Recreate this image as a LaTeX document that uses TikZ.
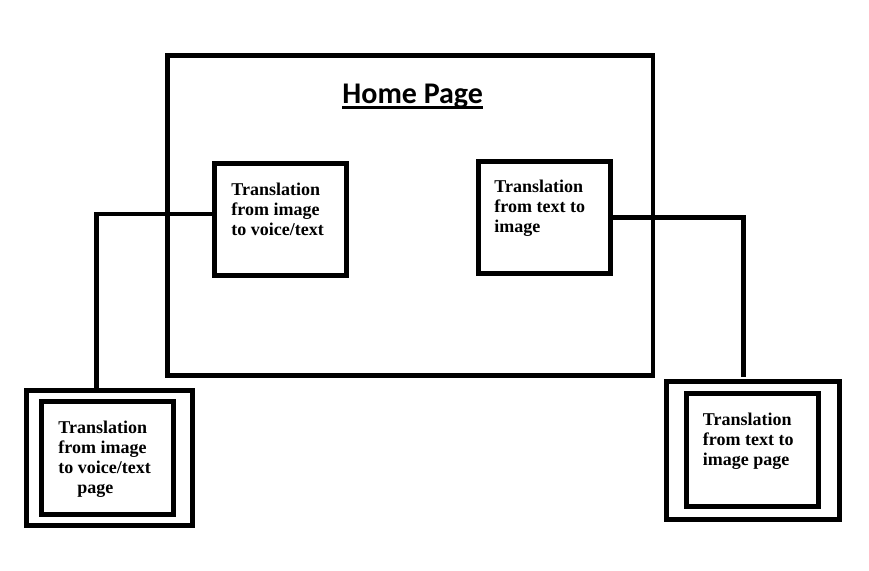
\documentclass[tikz,border=0pt]{standalone}
\usepackage{fontspec}
\setmainfont{Liberation Serif}
\newfontfamily\titlefont{Carlito}
\usetikzlibrary{positioning}

\begin{document}
\begin{tikzpicture}[x=1pt, y=-1pt,
    screen/.style={draw, line width=4.5pt, minimum width=132pt, minimum height=112pt, inner sep=0pt},
    wire/.style={draw, line width=4.5pt},
    boxtext/.style={font=\fontsize{18}{20}\selectfont\bfseries, align=left, inner sep=0pt, anchor=north west}
  ]
    \useasboundingbox (0,0) rectangle (869,570);

    % home page and its two entries
    \node[screen, minimum width=485.5pt, minimum height=320pt] (home) at (410.25, 215.5) {};
    \node[font=\titlefont\fontsize{30}{36}\selectfont\bfseries, inner sep=0pt, anchor=base] (title) at (412.7, 103.3) {Home Page};
    \draw[line width=3pt] ([yshift=-3.7pt]title.base west) -- ([yshift=-3.7pt]title.base east);

    \node[screen] (imgbox) at (280.5, 219.5) {};
    \node[screen] (txtbox) at (544.5, 217.5) {};
    \node[boxtext, below right=21.5pt and 19pt of imgbox.north west] (imgtext) {Translation\\from image\\to voice/text};
    \node[boxtext, below right=20.5pt and 18pt of txtbox.north west] (txttext) {Translation\\from text to\\image};

    % target pages
    \node[screen, minimum width=166pt, minimum height=135pt] (imgpage) at (109.5, 458) {};
    \node[screen, minimum height=113pt] (imgpagein) at (107.5, 458) {};
    \node[boxtext, below right=21.5pt and 19pt of imgpagein.north west] (imgpagetext) {Translation\\from image\\to voice/text\\\hspace*{19pt}page};

    \node[screen, minimum width=173pt, minimum height=138pt] (txtpage) at (753, 450.5) {};
    \node[screen, minimum height=113pt] (txtpagein) at (752.5, 450) {};
    \node[boxtext, below right=21.5pt and 18.5pt of txtpagein.north west] (txtpagetext) {Translation\\from text to\\image page};

    % links
    \draw[wire] ([yshift=5.5pt]imgbox.west) -| ([xshift=-13pt]imgpage.north);
    \draw[wire] (txtbox.east) -| ([xshift=-9.5pt,yshift=2pt]txtpage.north);
\end{tikzpicture}
\end{document}
